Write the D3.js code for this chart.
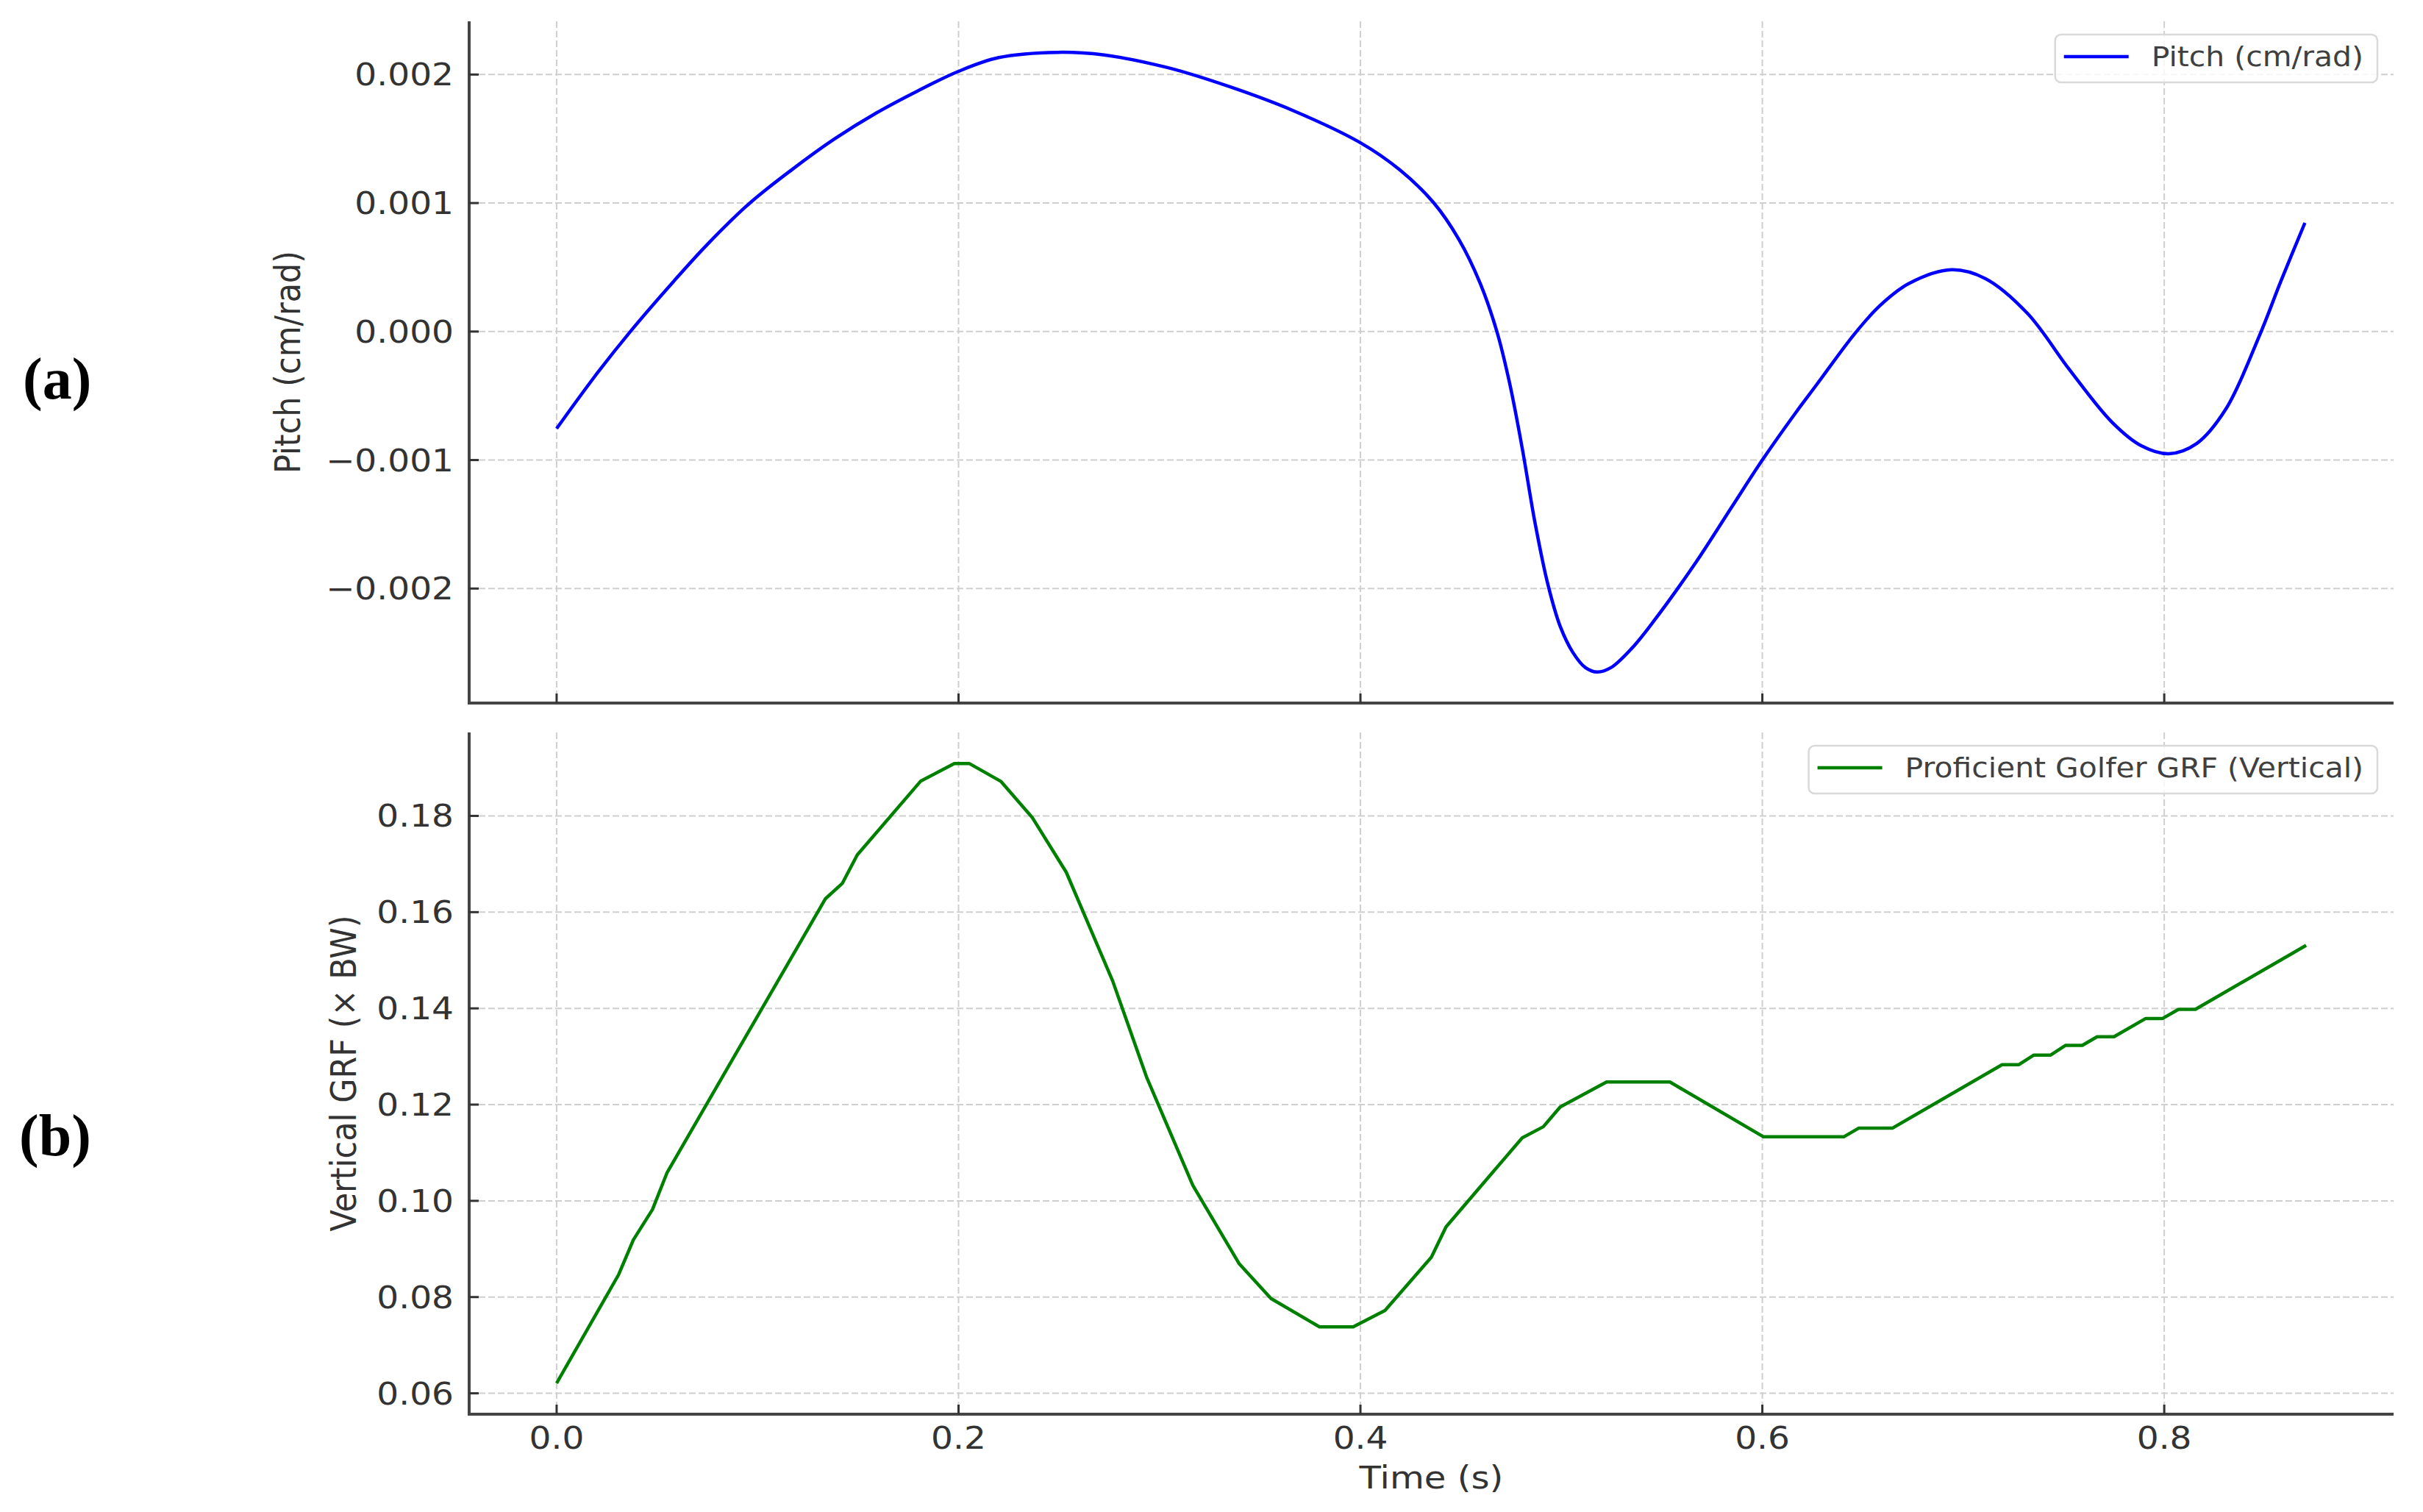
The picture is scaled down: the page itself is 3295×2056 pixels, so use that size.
<!DOCTYPE html>
<html><head><meta charset="utf-8">
<script src="https://cdn.jsdelivr.net/npm/d3@7"></script>
<style>html,body{margin:0;padding:0;background:#fff;} svg{display:block;}</style>
</head><body>
<svg id="chart" width="3295" height="2056"></svg>
<script>
// ---------- data ----------
const pitchTime = [0.000,0.0204,0.0372,0.0582,0.075,0.096,0.117,0.138,0.159,0.180,0.200,0.220,0.2494,0.2725,0.304,0.3355,0.367,0.400,0.4195,0.4363,0.449,0.4595,0.4679,0.4742,0.4805,0.4868,0.4931,0.4994,0.5057,0.512,0.5179,0.5246,0.5351,0.5456,0.5666,0.585,0.600,0.6164,0.6269,0.6458,0.6584,0.6731,0.6941,0.7109,0.7319,0.7529,0.7739,0.7887,0.8023,0.816,0.8307,0.8475,0.858,0.870];
const pitchValue = [-0.000755,-0.000320,0.000010,0.000390,0.000678,0.000998,0.001259,0.001496,0.001700,0.001875,0.002025,0.002132,0.002173,0.002152,0.002054,0.001902,0.001716,0.001469,0.001259,0.001005,0.000717,0.000379,0.000000,-0.000399,-0.000907,-0.001482,-0.001956,-0.002294,-0.002497,-0.002616,-0.002650,-0.002616,-0.002464,-0.002261,-0.001804,-0.001360,-0.001000,-0.000636,-0.000416,-0.000020,0.000200,0.000375,0.000481,0.000413,0.000142,-0.000298,-0.000704,-0.000890,-0.000951,-0.000873,-0.000602,-0.000027,0.000390,0.000846];
const grfTime = [0.000,0.0309,0.0382,0.0477,0.055,0.1338,0.1422,0.1496,0.1811,0.1979,0.2053,0.221,0.2368,0.2536,0.2767,0.2935,0.3166,0.3397,0.3555,0.3796,0.3964,0.4122,0.4353,0.4426,0.4805,0.491,0.4994,0.5225,0.554,0.6006,0.6405,0.6479,0.6647,0.7193,0.7277,0.7351,0.7435,0.7508,0.7592,0.7666,0.775,0.7908,0.7992,0.8071,0.8155,0.8706];
const grfValue = [0.0621,0.0847,0.0919,0.0982,0.1059,0.1628,0.1660,0.1719,0.1872,0.1909,0.1909,0.1872,0.1796,0.1683,0.1457,0.1258,0.1032,0.0869,0.0797,0.0738,0.0738,0.0772,0.0883,0.0946,0.1131,0.1154,0.1195,0.1247,0.1247,0.1133,0.1133,0.1151,0.1151,0.1283,0.1283,0.1303,0.1303,0.1323,0.1323,0.1341,0.1341,0.1379,0.1379,0.1398,0.1398,0.1531];
const timeTicks = [0.0,0.2,0.4,0.6,0.8];
const pitchTicks = [-0.002,-0.001,0.000,0.001,0.002];
const grfTicks = [0.06,0.08,0.10,0.12,0.14,0.16,0.18];
const pitchLegend = "Pitch (cm/rad)";
const grfLegend = "Proficient Golfer GRF (Vertical)";
const pitchAxisLabel = "Pitch (cm/rad)";
const grfAxisLabel = "Vertical GRF (\u00d7 BW)";
const timeAxisLabel = "Time (s)";
const panelTags = ["(a)", "(b)"];

// ---------- layout ----------
const svg = d3.select("#chart");
svg.append("rect").attr("width",3295).attr("height",2056).attr("fill","#fff");
const X0 = 638, X1 = 3255;
const SX = 1.12;               // horizontal stretch of the reference's text
const FONT = "DejaVu Sans, sans-serif";
const pad = e => { const r = e[1]-e[0]; return [e[0]-0.05*r, e[1]+0.05*r]; };

const x = d3.scaleLinear()
  .domain(pad(d3.extent(pitchTime.concat(grfTime))))
  .range([X0, X1]);

const panels = [
  {y0:29,  y1:956,  t:pitchTime, v:pitchValue, ticks:pitchTicks, fmt:d3.format(".3f"),
   color:"#0000ff", legend:pitchLegend, label:pitchAxisLabel, labelX:408, curve:d3.curveCatmullRom.alpha(0.5),
   tag:panelTags[0], tagX:31, tagY:542, xLabels:false},
  {y0:996, y1:1923, t:grfTime, v:grfValue, ticks:grfTicks, fmt:d3.format(".2f"),
   color:"#008000", legend:grfLegend, label:grfAxisLabel, labelX:484, curve:d3.curveLinear,
   tag:panelTags[1], tagX:26, tagY:1571, xLabels:true}
];

function stretchedText(g, tx, ty, str, size, anchor, color, rot) {
  return g.append("text")
    .attr("transform", `translate(${tx},${ty}) scale(${SX},1)` + (rot ? ` rotate(${rot})` : ""))
    .attr("text-anchor", anchor)
    .attr("font-family", FONT)
    .attr("font-size", size)
    .attr("fill", color)
    .text(str);
}

panels.forEach(p => {
  const y = d3.scaleLinear().domain(pad(d3.extent(p.v))).range([p.y1, p.y0]);
  const g = svg.append("g");

  // grid
  const grid = g.append("g").attr("stroke","#cfcfcf").attr("stroke-width",2).attr("stroke-dasharray","9,4");
  timeTicks.forEach(t => grid.append("line").attr("x1",x(t)).attr("x2",x(t)).attr("y1",p.y0).attr("y2",p.y1));
  p.ticks.forEach(v => grid.append("line").attr("x1",X0).attr("x2",X1).attr("y1",y(v)).attr("y2",y(v)));

  // data line
  const data = p.t.map((t,i) => [t, p.v[i]]);
  g.append("path").datum(data)
    .attr("fill","none").attr("stroke",p.color).attr("stroke-width",4.5)
    .attr("stroke-linejoin","round")
    .attr("d", d3.line().x(d => x(d[0])).y(d => y(d[1])).curve(p.curve));

  // spines
  g.append("line").attr("x1",X0).attr("x2",X0).attr("y1",p.y0).attr("y2",p.y1+2)
    .attr("stroke","#444").attr("stroke-width",4);
  g.append("line").attr("x1",X0-2).attr("x2",X1).attr("y1",p.y1).attr("y2",p.y1)
    .attr("stroke","#444").attr("stroke-width",4);

  // ticks (inward)
  timeTicks.forEach(t => g.append("line").attr("x1",x(t)).attr("x2",x(t)).attr("y1",p.y1).attr("y2",p.y1-13)
    .attr("stroke","#333").attr("stroke-width",3));
  p.ticks.forEach(v => g.append("line").attr("x1",X0).attr("x2",X0+13).attr("y1",y(v)).attr("y2",y(v))
    .attr("stroke","#333").attr("stroke-width",3));

  // tick labels
  p.ticks.forEach(v => stretchedText(g, 617, y(v)+15, p.fmt(v), 42, "end", "#333"));
  if (p.xLabels) {
    timeTicks.forEach(t => stretchedText(g, x(t), 1970, d3.format(".1f")(t), 42, "middle", "#333"));
    stretchedText(g, (X0+X1)/2, 2024, timeAxisLabel, 43, "middle", "#333");
  }

  // y axis label
  stretchedText(g, p.labelX, (p.y0+p.y1)/2, p.label, 43, "middle", "#333", -90);

  // panel tag
  g.append("text").attr("x",p.tagX).attr("y",p.tagY)
    .attr("font-family","Liberation Serif, serif").attr("font-weight","bold")
    .attr("font-size",80).attr("fill","#000").text(p.tag);

  // legend
  const lg = g.append("g");
  const box = lg.append("rect");
  const txt = stretchedText(lg, 0, 0, p.legend, 36.5, "start", "#404040");
  const tw = txt.node().getComputedTextLength() * SX;
  const boxR = X1 - 22, textEnd = boxR - 19, textStart = textEnd - tw;
  const lineEnd = textStart - 31, lineStart = lineEnd - 88, boxL = lineStart - 12;
  txt.attr("transform", `translate(${textStart},${p.y0+61}) scale(${SX},1)`);
  box.attr("x",boxL).attr("y",p.y0+18).attr("width",boxR-boxL).attr("height",65)
    .attr("rx",8).attr("fill","#fff").attr("fill-opacity",0.8)
    .attr("stroke","#d9d9d9").attr("stroke-width",2.5);
  lg.append("line").attr("x1",lineStart).attr("x2",lineEnd).attr("y1",p.y0+48).attr("y2",p.y0+48)
    .attr("stroke",p.color).attr("stroke-width",4.5);
});
</script>
</body></html>
